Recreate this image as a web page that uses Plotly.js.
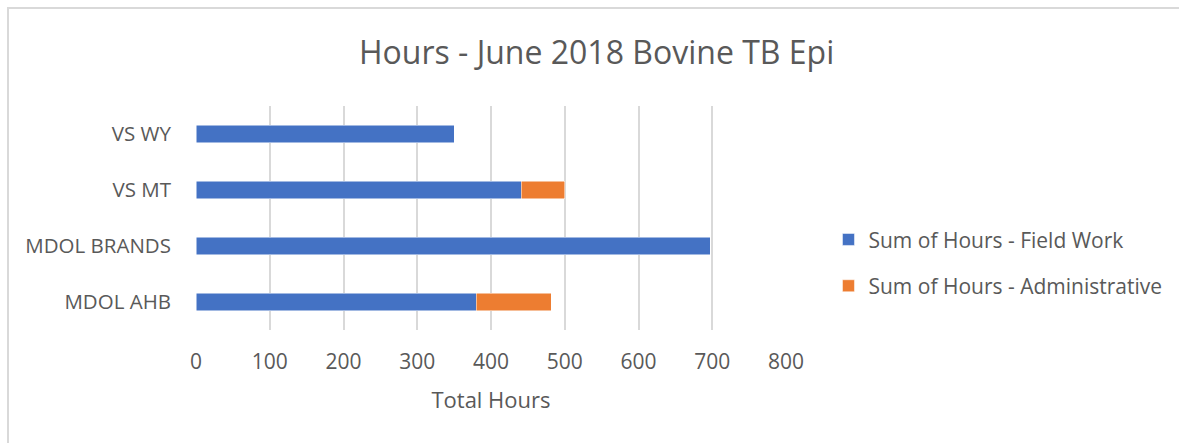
<!DOCTYPE html>
<html>
<head>
<meta charset="utf-8">
<script src="https://cdn.plot.ly/plotly-3.0.1.min.js"></script>
<style>
  html, body { margin: 0; padding: 0; background: #fff; }
  #wrap { position: relative; width: 1179px; height: 443px; overflow: hidden; }
  #chart { width: 1179px; height: 443px; }
  #frame { position: absolute; left: 7px; top: 7px; width: 1300px; height: 600px;
           border-left: 2px solid #d9d9d9; border-top: 2px solid #d9d9d9; pointer-events: none; }
</style>
</head>
<body>
<div id="wrap">
  <div id="chart"></div>
  <div id="frame"></div>
</div>
<script>
const categories = ["MDOL AHB", "MDOL BRANDS", "VS MT", "VS WY"];
const fieldWork = [380, 697, 441, 350];
const administrative = [102, 0, 59, 0];
const seriesNames = ["Sum of Hours - Field Work", "Sum of Hours - Administrative"];
const xTicks = [0, 100, 200, 300, 400, 500, 600, 700, 800];

const font = "Open Sans, Liberation Sans, sans-serif";
const gray = "#595959";

const traces = [
  {
    type: "bar", orientation: "h", name: seriesNames[0], legendgroup: "g1",
    y: categories, x: fieldWork,
    marker: { color: "#4472C4", line: { color: "#ffffff", width: 0.5 } },
    hoverinfo: "x+y"
  },
  {
    type: "bar", orientation: "h", name: seriesNames[1], legendgroup: "g2",
    y: categories, x: administrative,
    marker: { color: "#ED7D31", line: { color: "#ffffff", width: 0.5 } },
    hoverinfo: "x+y"
  }
];

const layout = {
  width: 1179, height: 443,
  paper_bgcolor: "#ffffff", plot_bgcolor: "#ffffff",
  margin: { l: 196, r: 390, t: 106, b: 113 },
  barmode: "stack",
  bargap: 0.69,
  font: { family: font, color: gray },
  title: {
    text: "Hours - June 2018 Bovine TB Epi",
    font: { family: font, size: 32, color: gray },
    x: 0.506, xref: "container", xanchor: "center",
    y: 0.88, yref: "container", yanchor: "middle"
  },
  xaxis: {
    range: [0, 800],
    tickvals: xTicks,
    ticktext: xTicks.map(String),
    showgrid: true, gridcolor: "#d9d9d9", gridwidth: 2,
    zeroline: false, showline: false, ticks: "",
    ticklabelstandoff: 17,
    tickfont: { family: font, size: 21, color: gray },
    title: { text: "Total Hours", font: { family: font, size: 22, color: gray }, standoff: 18 },
    fixedrange: true
  },
  yaxis: {
    type: "category",
    categoryorder: "array", categoryarray: categories,
    showgrid: false, zeroline: false, showline: false, ticks: "",
    ticklabelstandoff: 24,
    tickfont: { family: font, size: 20.5, color: gray },
    fixedrange: true
  },
  legend: {
    x: 1.072, xanchor: "left", y: 0.30, yanchor: "middle",
    traceorder: "grouped",
    font: { family: font, size: 21, color: gray },
    itemwidth: 30, tracegroupgap: 16,
    bgcolor: "rgba(0,0,0,0)"
  },
  showlegend: true
};

Plotly.newPlot("chart", traces, layout, { displayModeBar: false, staticPlot: true });
</script>
</body>
</html>
